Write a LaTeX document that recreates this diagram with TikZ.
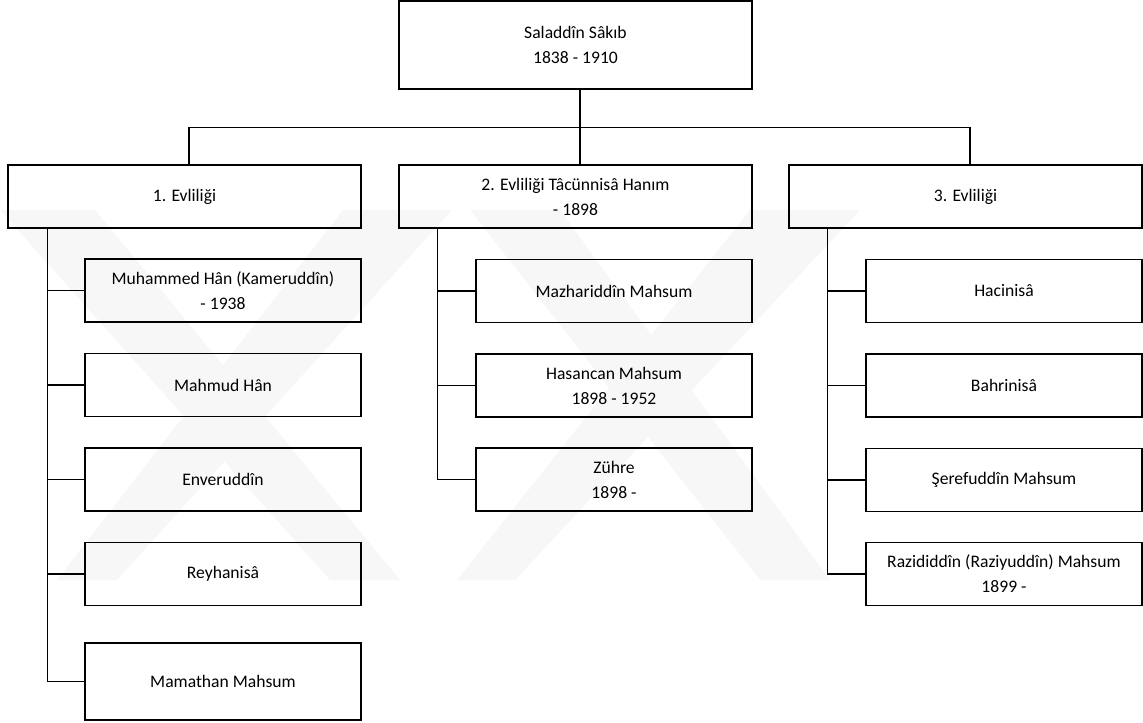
\documentclass[tikz,border=0pt]{standalone}
\usepackage{fontspec}
\setmainfont{Carlito}
\tikzset{
	aile/.style={draw, line width=0.9pt, minimum width=264.75pt, minimum height=47.25pt,
		inner sep=0pt, align=center, font=\fontsize{13.2}{18.75}\selectfont},
	cocuk/.style={aile, minimum width=207pt},
	dal/.style={line width=0.9pt},
	filigran/.style={fill=black!3}
}
\begin{document}
\begin{tikzpicture}[x=0.75pt,y=-0.75pt]
				\useasboundingbox (0,0) rectangle (1143,722);
				
				% watermark
				\fill[filigran] (0,210) -- (95,210) -- (400,580) -- (330,580) -- cycle;
				\fill[filigran] (343,210) -- (452,210) -- (117,580) -- (57,580) -- cycle;
				\fill[filigran] (470,210) -- (560,210) -- (830,580) -- (760,580) -- cycle;
				\fill[filigran] (750,210) -- (860,210) -- (515,580) -- (457,580) -- cycle;
				
				% Saladdin
				\node[aile, minimum height=66pt] at (575.5,45) (sakib){Saladdîn Sâkıb\\1838 - 1910};
				
				% Evlilik 1
				\node[aile] at (184.5,196.5) (evlilik1){1. Evliliği};
				% Evlilik 2
				\node[aile] at (575.5,196.5) (evlilik2){2. Evliliği Tâcünnisâ Hanım\\- 1898};
				% Evlilik 3
				\node[aile] at (965.5,196.5) (evlilik3){3. Evliliği};
				
				% bus
				\draw[dal] ([xshift=3.4pt]sakib.south) -- ++(0,38) coordinate (bus);
				\draw[dal] (bus) -| ([xshift=3.4pt]evlilik1.north);
				\draw[dal] (bus) -- ([xshift=3.4pt]evlilik2.north);
				\draw[dal] (bus) -| ([xshift=3.4pt]evlilik3.north);
				
				% cocuklar 1
				\node[cocuk] at (223,290.5) (cocuk1a){Muhammed Hân (Kameruddîn)\\- 1938};
				\node[cocuk] at (223,385) (cocuk1b){Mahmud Hân};
				\node[cocuk] at (223,479.5) (cocuk1c){Enveruddîn};
				\node[cocuk] at (223,574) (cocuk1d){Reyhanisâ};
				\node[cocuk, minimum height=57.75pt] at (223,681.5) (cocuk1e){Mamathan Mahsum};
				
				% cocuklar 2
				\node[cocuk] at (614,291) (cocuk2a){Mazhariddîn Mahsum};
				\node[cocuk] at (614,385.5) (cocuk2b){Hasancan Mahsum\\1898 - 1952};
				\node[cocuk] at (614,479.5) (cocuk2c){Zühre\\1898 -};
				
				% cocuklar 3
				\node[cocuk] at (1004,291) (cocuk3a){Hacinisâ};
				\node[cocuk] at (1004,385.5) (cocuk3b){Bahrinisâ};
				\node[cocuk] at (1004,480) (cocuk3c){Şerefuddîn Mahsum};
				\node[cocuk] at (1004,574) (cocuk3d){Razididdîn (Raziyuddîn) Mahsum\\1899 -};
				
				% dallar
				\foreach \c in {cocuk1a,cocuk1b,cocuk1c,cocuk1d,cocuk1e}
				\draw[dal] ([xshift=30pt]evlilik1.south west) |- (\c.west);
				\foreach \c in {cocuk2a,cocuk2b,cocuk2c}
				\draw[dal] ([xshift=29.25pt]evlilik2.south west) |- (\c.west);
				\foreach \c in {cocuk3a,cocuk3b,cocuk3c,cocuk3d}
				\draw[dal] ([xshift=29.25pt]evlilik3.south west) |- (\c.west);
			\end{tikzpicture}
\end{document}
